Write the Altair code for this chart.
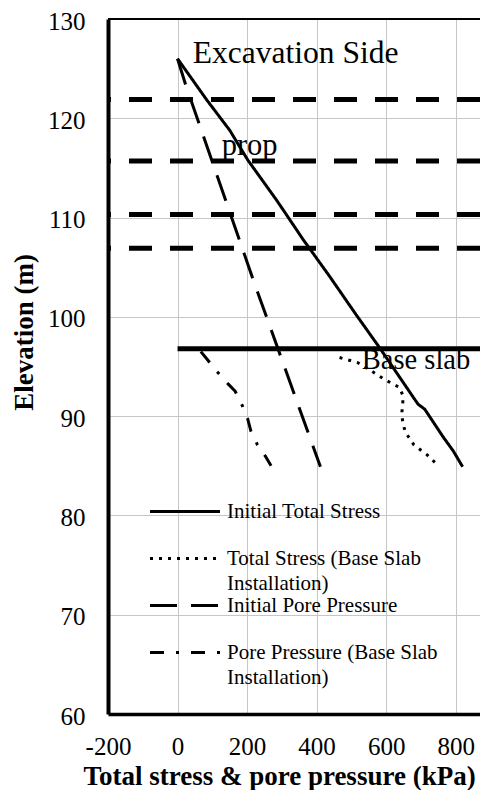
import altair as alt
import pandas as pd

# ---------------- data ----------------
series_names = [
    "Initial Total Stress",
    "Total Stress (Base Slab Installation)",
    "Initial Pore Pressure",
    "Pore Pressure (Base Slab Installation)",
]
series_lines = [
    ["Initial Total Stress", ""],
    ["Total Stress (Base Slab", "Installation)"],
    ["Initial Pore Pressure", ""],
    ["Pore Pressure (Base Slab", "Installation)"],
]

# Initial total stress
its_kpa = [0, 83, 150, 202, 284, 313, 361, 437, 514, 581, 682, 692, 711, 764, 793, 820]
its_elev = [126.0, 121.9, 118.8, 115.8, 111.8, 110.3, 107.8, 104.1, 100.2, 96.9, 91.7, 91.2, 90.7, 87.9, 86.5, 84.9]

# Total stress (base slab installation)
tsb_kpa = [466, 518, 560, 595, 638, 648, 648, 646, 645, 648, 655, 680, 718, 750]
tsb_elev = [95.9, 95.4, 94.5, 93.7, 92.9, 92.1, 91.4, 90.7, 90.1, 89.4, 88.4, 87.1, 86.1, 85.0]

# Initial pore pressure
ipp_kpa = [0, 24, 221, 411]
ipp_elev = [126.0, 123.3, 103.4, 84.9]

# Pore pressure (base slab installation)
ppb_kpa = [67, 88, 113, 144, 166, 187, 202, 211, 230, 252, 269]
ppb_elev = [96.5, 95.6, 94.5, 93.3, 92.5, 91.0, 89.7, 88.5, 87.1, 86.0, 85.0]

# Prop levels (dashed horizontal lines)
prop_elev = [121.9, 115.7, 110.3, 106.9]

# Base slab level
slab_elev = [96.8]
slab_kpa_start = [0]
slab_kpa_end = [1000]

# Frame top
top_elev = [130]

# Annotations
ann_text = ["Excavation Side", "prop", "Base slab"]
ann_kpa = [44, 127, 530]
ann_elev = [125.6, 116.3, 94.7]

x_ticks = [-200, 0, 200, 400, 600, 800]
y_ticks = [60, 70, 80, 90, 100, 110, 120, 130]

# ---------------- tables ----------------
rows = []
for name, xs, ys in zip(
    series_names,
    [its_kpa, tsb_kpa, ipp_kpa, ppb_kpa],
    [its_elev, tsb_elev, ipp_elev, ppb_elev],
):
    for i, (xv, yv) in enumerate(zip(xs, ys)):
        rows.append({"series": name, "kpa": xv, "elev": yv, "idx": i})
lines_df = pd.DataFrame(rows)
props_df = pd.DataFrame({"elev": prop_elev})
slab_df = pd.DataFrame({"kpa": slab_kpa_start, "kpa_end": slab_kpa_end, "elev": slab_elev})
top_df = pd.DataFrame({"elev": top_elev})
ann_df = pd.DataFrame({"text": ann_text, "kpa": ann_kpa, "elev": ann_elev})

# ---------------- style ----------------
FONT = "Liberation Serif"
GRID = "#c6c6c6"
ann_font_sizes = {"Excavation Side": 31.5, "prop": 30.5, "Base slab": 28.5}

x_scale = alt.Scale(domain=[-200, 870], nice=False, zero=False)
y_scale = alt.Scale(domain=[60, 130], nice=False, zero=False)

x_axis = alt.Axis(
    values=x_ticks, grid=True, gridColor=GRID, gridWidth=1, gridOpacity=1,
    domainColor="black", domainWidth=3.5, ticks=False, tickSize=0,
    labelFont=FONT, labelFontSize=25, labelColor="black", labelPadding=20,
    labelFlush=False, labelOverlap=False, labelExpr="'' + datum.value",
    title="Total stress & pore pressure (kPa)", titleFont=FONT, titleFontSize=27,
    titleFontWeight="bold", titleColor="black", titleX=171, titleY=70,
    titleAlign="center", titleBaseline="alphabetic",
)
y_axis = alt.Axis(
    values=y_ticks, grid=True, gridColor=GRID, gridWidth=1, gridOpacity=1,
    domainColor="black", domainWidth=4, ticks=False, tickSize=0,
    labelFont=FONT, labelFontSize=25, labelColor="black", labelPadding=23,
    labelOffset=2,
    labelOverlap=False, labelExpr="'' + datum.value",
    title="Elevation (m)", titleFont=FONT, titleFontSize=27,
    titleFontWeight="bold", titleColor="black", titleX=-84, titleY=313,
    titleAngle=270, titleBaseline="middle", titleAlign="center",
)

x_enc = alt.X("kpa:Q", scale=x_scale, axis=x_axis)
y_enc = alt.Y("elev:Q", scale=y_scale, axis=y_axis)


def js_list(items):
    return "[" + ", ".join("'" + s + "'" for s in items) + "]"


label_expr = ""
for name, parts in zip(series_names[:-1], series_lines[:-1]):
    label_expr += f"datum.label == '{name}' ? {js_list(parts)} : "
label_expr += js_list(series_lines[-1])

dash_range = [[1, 0], [3, 6], [27, 14], [14, 12, 3, 12]]

lines = alt.Chart(lines_df).mark_line(color="black", strokeWidth=3, clip=True).encode(
    x=x_enc,
    y=y_enc,
    order=alt.Order("idx:Q"),
    strokeDash=alt.StrokeDash(
        "series:N",
        scale=alt.Scale(domain=series_names, range=dash_range),
        legend=alt.Legend(
            title=None, orient="none", legendX=41.5, legendY=482,
            symbolType="M-2,0H12", symbolSize=100, symbolStrokeWidth=3,
            symbolStrokeColor="black", labelFont=FONT, labelFontSize=21,
            labelColor="black", labelOffset=56.5, labelLimit=400,
            labelBaseline="middle", labelExpr=label_expr, rowPadding=0,
            padding=0,
        ),
    ),
)

props = alt.Chart(props_df).mark_rule(
    color="black", strokeWidth=5, strokeDash=[23, 18]
).encode(y=y_enc)

slab = alt.Chart(slab_df).mark_rule(color="black", strokeWidth=5, clip=True).encode(
    x=x_enc, x2="kpa_end:Q", y=y_enc
)

top = alt.Chart(top_df).mark_rule(color="black", strokeWidth=2).encode(y=y_enc)

ann_layers = [
    alt.Chart(ann_df[ann_df["text"] == t]).mark_text(
        align="left", baseline="alphabetic", font=FONT,
        fontSize=ann_font_sizes[t], color="black",
    ).encode(x=x_enc, y=y_enc, text="text:N")
    for t in ann_text
]

chart = (
    alt.layer(props, slab, top, lines, *ann_layers)
    .properties(
        width=372, height=695,
        padding={"left": 100, "top": 11, "right": 0, "bottom": 76},
        autosize=alt.AutoSizeParams(type="none"),
        background="white",
    )
    .configure(style={"guide-label": {"lineHeight": 25}})
    .configure_view(stroke="transparent")
)

chart.save("out.html", embed_options={"renderer": "svg", "actions": False})
